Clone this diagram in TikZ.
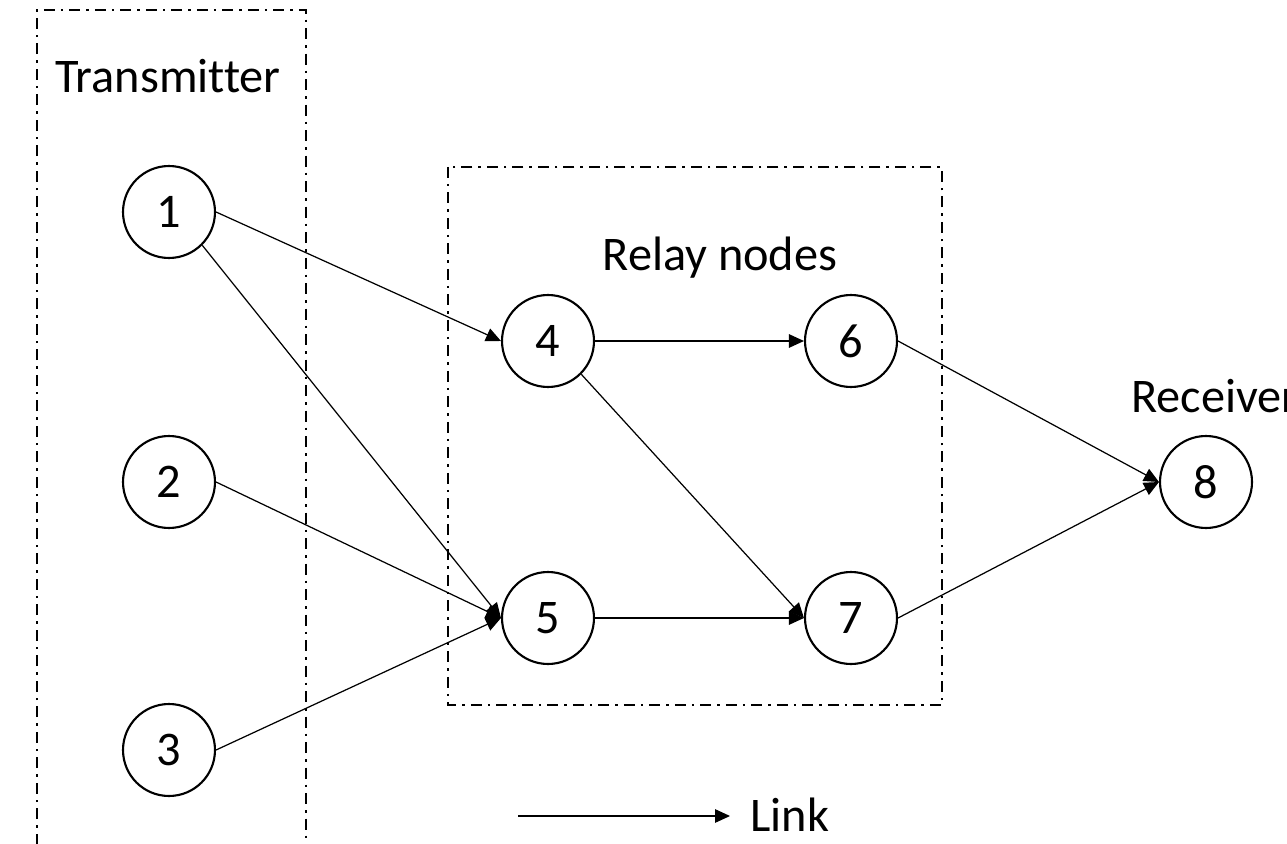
\documentclass[tikz,border=0pt]{standalone}
\usepackage{fontspec}
\setmainfont[Ligatures=NoCommon]{Carlito}
\usetikzlibrary{arrows.meta}
\begin{document}
\begin{tikzpicture}[x=0.02cm,y=-0.02cm,
  every node/.style={font=\fontsize{27.5}{32}\selectfont},
  nd/.style={circle,draw=black,line width=1.2pt,minimum size=1.84cm,inner sep=0pt,fill=white},
  lnk/.style={line width=0.7pt,-{Triangle[length=0.3cm,width=0.27cm]}},
  grp/.style={line width=1.6pt,dash pattern=on 0.22cm off 0.12cm on 0.05cm off 0.12cm}]
\useasboundingbox (0,0) rectangle (1287,844);
\fill[white] (0,0) rectangle (1287,844);
% group boxes
\draw[grp] (37,870) -- (37,10) -- (306,10) -- (306,870);
\draw[grp] (448,167) rectangle (942,705);
% labels
\node[anchor=base] (tx) at (168,93) {Transmitter};
\node[anchor=base] (rl) at (720,271) {Relay nodes};
\node[anchor=base west,inner sep=0pt] (rx) at (1131,412) {Receiver};
% nodes
\node[nd] (n1) at (169,212) {1};
\node[nd] (n2) at (169,482) {2};
\node[nd] (n3) at (169,750) {3};
\node[nd] (n4) at (548,341) {4};
\node[nd] (n5) at (548,618) {5};
\node[nd] (n6) at (851,341) {6};
\node[nd] (n7) at (851,618) {7};
\node[nd] (n8) at (1206,482) {8};
% links
\draw[lnk] (n1.east) -- (n4.west);
\draw[lnk] (n1.south east) -- (n5.west);
\draw[lnk] (n2.east) -- (n5.west);
\draw[lnk] (n3.east) -- (n5.west);
\draw[lnk] (n4.east) -- (n6.west);
\draw[lnk] (n4.south east) -- (n7.west);
\draw[lnk] (n5.east) -- (n7.west);
\draw[lnk] (n6.east) -- (n8.west);
\draw[lnk] (n7.east) -- (n8.west);
% legend
\coordinate (la) at (518,816);
\coordinate (lb) at (730,816);
\draw[lnk] (la) -- (lb);
\node[anchor=base west,inner sep=0pt] (lt) at (750,831) {Link};
\end{tikzpicture}
\end{document}
